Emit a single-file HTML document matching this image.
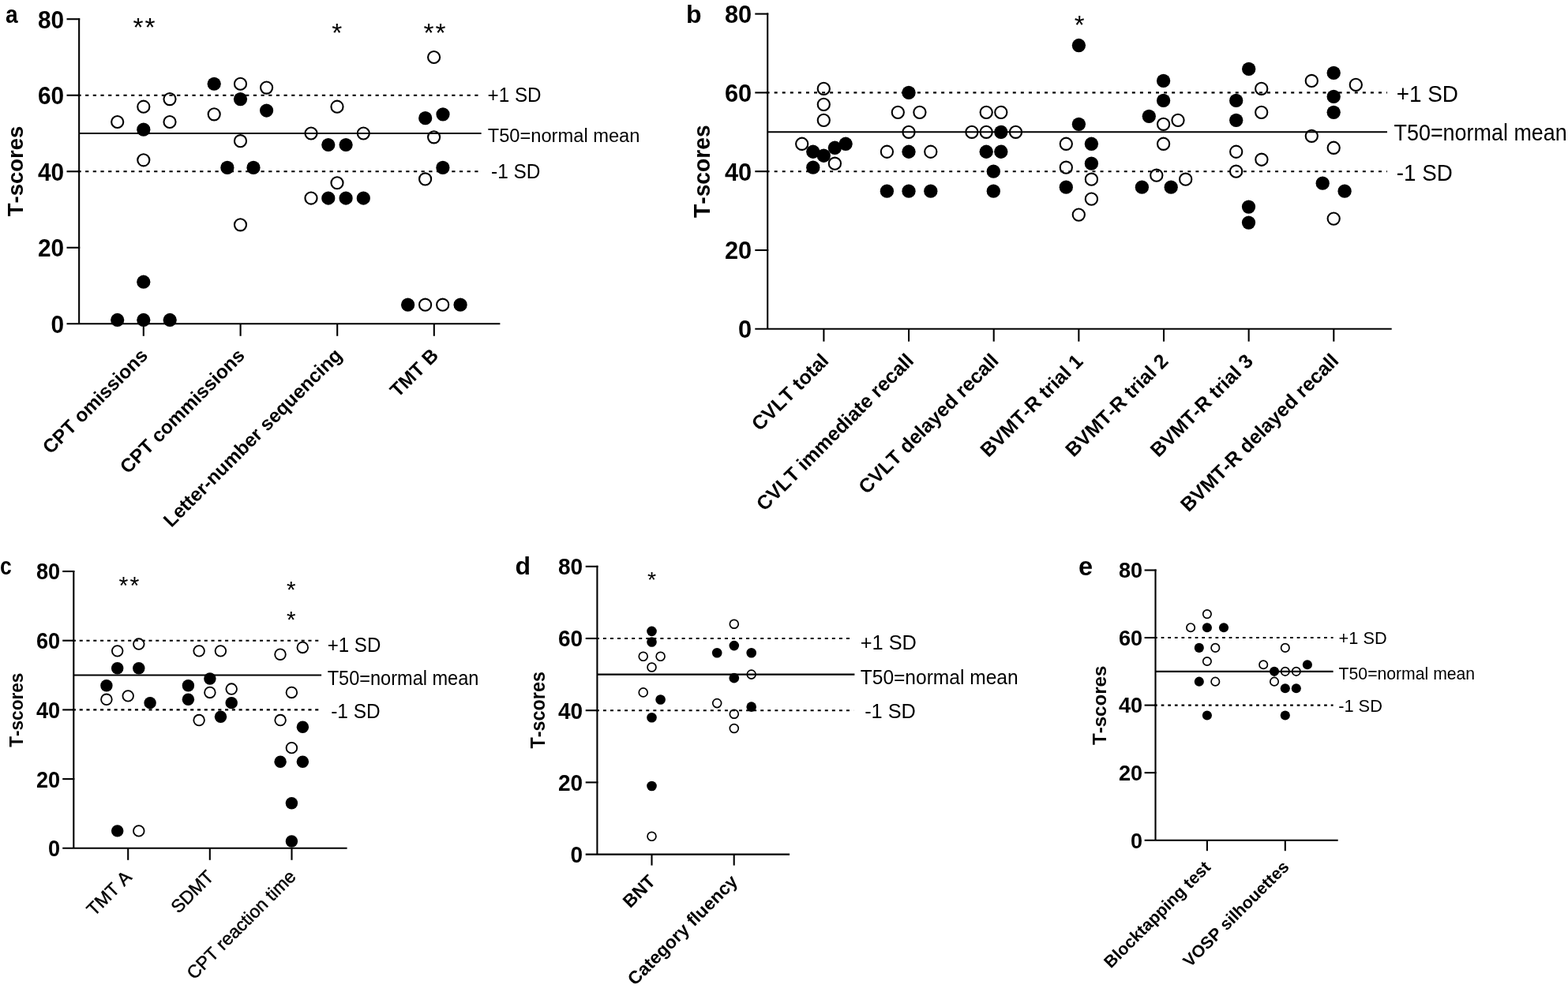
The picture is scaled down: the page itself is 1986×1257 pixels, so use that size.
<!DOCTYPE html>
<html><head><meta charset="utf-8"><title>T-scores figure</title>
<style>html,body{margin:0;padding:0;background:#fff;}svg{display:block;} text{stroke:none;font-kerning:none;}</style></head>
<body>
<svg width="1986" height="1257" viewBox="0 0 1986 1257">
<rect width="1986" height="1257" fill="#fff"/>
<g stroke="#000" fill="#000" font-family='"Liberation Sans", sans-serif' stroke-linecap="butt">
<line x1="98.4" y1="120.74" x2="607.6" y2="120.74" stroke-width="2.1" stroke-dasharray="4.3 5.37"/>
<line x1="98.4" y1="217.26" x2="607.6" y2="217.26" stroke-width="2.1" stroke-dasharray="4.3 5.37"/>
<line x1="100.15" y1="169" x2="609.6" y2="169" stroke-width="2.1"/>
<path d="M100.15,23.17V410.3" stroke-width="2.1" fill="none"/>
<line x1="84.5" y1="313.78" x2="101.2" y2="313.78" stroke-width="2.1"/>
<line x1="84.5" y1="217.26" x2="101.2" y2="217.26" stroke-width="2.1"/>
<line x1="84.5" y1="120.74" x2="101.2" y2="120.74" stroke-width="2.1"/>
<line x1="84.5" y1="24.22" x2="101.2" y2="24.22" stroke-width="2.1"/>
<line x1="84.5" y1="410.3" x2="633.4" y2="410.3" stroke-width="2.1"/>
<line x1="181.8" y1="410.3" x2="181.8" y2="425.8" stroke-width="2.1"/>
<line x1="304.6" y1="410.3" x2="304.6" y2="425.8" stroke-width="2.1"/>
<line x1="427.2" y1="410.3" x2="427.2" y2="425.8" stroke-width="2.1"/>
<line x1="549.8" y1="410.3" x2="549.8" y2="425.8" stroke-width="2.1"/>
<circle cx="148.7" cy="154.52" r="7.55" stroke-width="2.1" fill="none"/>
<circle cx="181.8" cy="135.22" r="7.55" stroke-width="2.1" fill="none"/>
<circle cx="215" cy="125.57" r="7.55" stroke-width="2.1" fill="none"/>
<circle cx="215" cy="154.52" r="7.55" stroke-width="2.1" fill="none"/>
<circle cx="181.8" cy="164.17" r="8.6" stroke="none" fill="#000"/>
<circle cx="181.8" cy="202.78" r="7.55" stroke-width="2.1" fill="none"/>
<circle cx="148.7" cy="405.47" r="8.6" stroke="none" fill="#000"/>
<circle cx="181.8" cy="405.47" r="8.6" stroke="none" fill="#000"/>
<circle cx="215.2" cy="405.47" r="8.6" stroke="none" fill="#000"/>
<circle cx="181.8" cy="357.21" r="8.6" stroke="none" fill="#000"/>
<circle cx="271.2" cy="106.26" r="8.6" stroke="none" fill="#000"/>
<circle cx="304.5" cy="106.26" r="7.55" stroke-width="2.1" fill="none"/>
<circle cx="337.6" cy="111.09" r="7.55" stroke-width="2.1" fill="none"/>
<circle cx="304.5" cy="125.57" r="8.6" stroke="none" fill="#000"/>
<circle cx="337.6" cy="140.04" r="8.6" stroke="none" fill="#000"/>
<circle cx="271.2" cy="144.87" r="7.55" stroke-width="2.1" fill="none"/>
<circle cx="304.5" cy="178.65" r="7.55" stroke-width="2.1" fill="none"/>
<circle cx="287.9" cy="212.43" r="8.6" stroke="none" fill="#000"/>
<circle cx="321" cy="212.43" r="8.6" stroke="none" fill="#000"/>
<circle cx="304.5" cy="284.82" r="7.55" stroke-width="2.1" fill="none"/>
<circle cx="427" cy="135.22" r="7.55" stroke-width="2.1" fill="none"/>
<circle cx="394" cy="169" r="7.55" stroke-width="2.1" fill="none"/>
<circle cx="460.3" cy="169" r="7.55" stroke-width="2.1" fill="none"/>
<circle cx="415.8" cy="183.48" r="8.6" stroke="none" fill="#000"/>
<circle cx="438.1" cy="183.48" r="8.6" stroke="none" fill="#000"/>
<circle cx="427" cy="231.74" r="7.55" stroke-width="2.1" fill="none"/>
<circle cx="394" cy="251.04" r="7.55" stroke-width="2.1" fill="none"/>
<circle cx="415.8" cy="251.04" r="8.6" stroke="none" fill="#000"/>
<circle cx="438.1" cy="251.04" r="8.6" stroke="none" fill="#000"/>
<circle cx="460.3" cy="251.04" r="8.6" stroke="none" fill="#000"/>
<circle cx="549.6" cy="72.48" r="7.55" stroke-width="2.1" fill="none"/>
<circle cx="538.7" cy="149.7" r="8.6" stroke="none" fill="#000"/>
<circle cx="561" cy="144.87" r="8.6" stroke="none" fill="#000"/>
<circle cx="549.6" cy="173.83" r="7.55" stroke-width="2.1" fill="none"/>
<circle cx="560.9" cy="212.43" r="8.6" stroke="none" fill="#000"/>
<circle cx="538.6" cy="226.91" r="7.55" stroke-width="2.1" fill="none"/>
<circle cx="516.6" cy="386.17" r="8.6" stroke="none" fill="#000"/>
<circle cx="538.6" cy="386.17" r="7.55" stroke-width="2.1" fill="none"/>
<circle cx="560.7" cy="386.17" r="7.55" stroke-width="2.1" fill="none"/>
<circle cx="583.1" cy="386.17" r="8.6" stroke="none" fill="#000"/>
<text transform="translate(64.54,421.85) scale(1,1.028)" font-size="29.82" font-weight="bold">0</text>
<text transform="translate(47.95,325.33) scale(1,1.028)" font-size="29.82" font-weight="bold">20</text>
<text transform="translate(47.95,228.81) scale(1,1.028)" font-size="29.82" font-weight="bold">40</text>
<text transform="translate(47.95,132.29) scale(1,1.028)" font-size="29.82" font-weight="bold">60</text>
<text transform="translate(47.95,35.77) scale(1,1.028)" font-size="29.82" font-weight="bold">80</text>
<text transform="translate(29.4,274.31) rotate(-90) scale(1,1.0)" font-size="27.5" font-weight="bold">T-scores</text>
<text transform="translate(7.08,28.8) scale(0.88,1.0)" font-size="32" font-weight="bold">a</text>
<text transform="translate(617.52,129) scale(1,1.055)" font-size="24.24">+1 SD</text>
<text transform="translate(617.67,179.9) scale(1,1.043)" font-size="23.69">T50=normal mean</text>
<text transform="translate(622.12,225.7) scale(1,1.031)" font-size="24.39">-1 SD</text>
<text transform="translate(187.98,452.68) rotate(-45)" x="-175.26" y="0" font-size="24.4" font-weight="bold">CPT omissions</text>
<text transform="translate(310.78,452.68) rotate(-45)" x="-210.52" y="0" font-size="24.4" font-weight="bold">CPT commissions</text>
<text transform="translate(433.38,452.68) rotate(-45)" x="-306.12" y="0" font-size="24.4" font-weight="bold">Letter-number sequencing</text>
<text transform="translate(555.98,452.68) rotate(-45)" x="-73.43" y="0" font-size="24.4" font-weight="bold">TMT B</text>
<text x="168.4" y="45.75" font-size="33.5" letter-spacing="2.1">**</text>
<text x="420.27" y="53.05" font-size="33.5">*</text>
<text x="536.4" y="53.05" font-size="33.5" letter-spacing="2.1">**</text>
<line x1="970.6" y1="117.4" x2="1757" y2="117.4" stroke-width="2.1" stroke-dasharray="4.0 6.07"/>
<line x1="970.6" y1="217.2" x2="1757" y2="217.2" stroke-width="2.1" stroke-dasharray="4.0 6.07"/>
<line x1="972.2" y1="167.3" x2="1757" y2="167.3" stroke-width="2.1"/>
<path d="M972.2,16.55V416.8" stroke-width="2.1" fill="none"/>
<line x1="956.3" y1="317" x2="973.25" y2="317" stroke-width="2.1"/>
<line x1="956.3" y1="217.2" x2="973.25" y2="217.2" stroke-width="2.1"/>
<line x1="956.3" y1="117.4" x2="973.25" y2="117.4" stroke-width="2.1"/>
<line x1="956.3" y1="17.6" x2="973.25" y2="17.6" stroke-width="2.1"/>
<line x1="956.3" y1="416.8" x2="1762.7" y2="416.8" stroke-width="2.1"/>
<line x1="1043.4" y1="416.8" x2="1043.4" y2="432.7" stroke-width="2.1"/>
<line x1="1151.05" y1="416.8" x2="1151.05" y2="432.7" stroke-width="2.1"/>
<line x1="1258.7" y1="416.8" x2="1258.7" y2="432.7" stroke-width="2.1"/>
<line x1="1366.35" y1="416.8" x2="1366.35" y2="432.7" stroke-width="2.1"/>
<line x1="1474" y1="416.8" x2="1474" y2="432.7" stroke-width="2.1"/>
<line x1="1581.65" y1="416.8" x2="1581.65" y2="432.7" stroke-width="2.1"/>
<line x1="1689.3" y1="416.8" x2="1689.3" y2="432.7" stroke-width="2.1"/>
<circle cx="1043.3" cy="112.41" r="7.6" stroke-width="2.1" fill="none"/>
<circle cx="1043.3" cy="132.37" r="7.6" stroke-width="2.1" fill="none"/>
<circle cx="1043.3" cy="152.33" r="7.6" stroke-width="2.1" fill="none"/>
<circle cx="1015.7" cy="182.27" r="7.6" stroke-width="2.1" fill="none"/>
<circle cx="1029.8" cy="192.25" r="8.65" stroke="none" fill="#000"/>
<circle cx="1043.3" cy="197.24" r="8.65" stroke="none" fill="#000"/>
<circle cx="1057.4" cy="187.26" r="8.65" stroke="none" fill="#000"/>
<circle cx="1071.1" cy="182.27" r="8.65" stroke="none" fill="#000"/>
<circle cx="1057.4" cy="207.22" r="7.6" stroke-width="2.1" fill="none"/>
<circle cx="1029.8" cy="212.21" r="8.65" stroke="none" fill="#000"/>
<circle cx="1151" cy="117.4" r="8.65" stroke="none" fill="#000"/>
<circle cx="1137.3" cy="142.35" r="7.6" stroke-width="2.1" fill="none"/>
<circle cx="1164.9" cy="142.35" r="7.6" stroke-width="2.1" fill="none"/>
<circle cx="1151" cy="167.3" r="7.6" stroke-width="2.1" fill="none"/>
<circle cx="1123.4" cy="192.25" r="7.6" stroke-width="2.1" fill="none"/>
<circle cx="1151" cy="192.25" r="8.65" stroke="none" fill="#000"/>
<circle cx="1178.8" cy="192.25" r="7.6" stroke-width="2.1" fill="none"/>
<circle cx="1123.4" cy="242.15" r="8.65" stroke="none" fill="#000"/>
<circle cx="1151" cy="242.15" r="8.65" stroke="none" fill="#000"/>
<circle cx="1178.8" cy="242.15" r="8.65" stroke="none" fill="#000"/>
<circle cx="1249.2" cy="142.35" r="7.6" stroke-width="2.1" fill="none"/>
<circle cx="1267.8" cy="142.35" r="7.6" stroke-width="2.1" fill="none"/>
<circle cx="1230.9" cy="167.3" r="7.6" stroke-width="2.1" fill="none"/>
<circle cx="1249.2" cy="167.3" r="7.6" stroke-width="2.1" fill="none"/>
<circle cx="1267.8" cy="167.3" r="8.65" stroke="none" fill="#000"/>
<circle cx="1286.5" cy="167.3" r="7.6" stroke-width="2.1" fill="none"/>
<circle cx="1249.2" cy="192.25" r="8.65" stroke="none" fill="#000"/>
<circle cx="1267.8" cy="192.25" r="8.65" stroke="none" fill="#000"/>
<circle cx="1258.3" cy="217.2" r="8.65" stroke="none" fill="#000"/>
<circle cx="1258.3" cy="242.15" r="8.65" stroke="none" fill="#000"/>
<circle cx="1366.4" cy="57.52" r="8.65" stroke="none" fill="#000"/>
<circle cx="1366.4" cy="157.32" r="8.65" stroke="none" fill="#000"/>
<circle cx="1350.3" cy="182.27" r="7.6" stroke-width="2.1" fill="none"/>
<circle cx="1382.4" cy="182.27" r="8.65" stroke="none" fill="#000"/>
<circle cx="1350.3" cy="212.21" r="7.6" stroke-width="2.1" fill="none"/>
<circle cx="1382.4" cy="207.22" r="8.65" stroke="none" fill="#000"/>
<circle cx="1382.4" cy="227.18" r="7.6" stroke-width="2.1" fill="none"/>
<circle cx="1350.3" cy="237.16" r="8.65" stroke="none" fill="#000"/>
<circle cx="1382.4" cy="252.13" r="7.6" stroke-width="2.1" fill="none"/>
<circle cx="1366.3" cy="272.09" r="7.6" stroke-width="2.1" fill="none"/>
<circle cx="1473.6" cy="102.43" r="8.65" stroke="none" fill="#000"/>
<circle cx="1473.6" cy="127.38" r="8.65" stroke="none" fill="#000"/>
<circle cx="1455.3" cy="147.34" r="8.65" stroke="none" fill="#000"/>
<circle cx="1473.6" cy="157.32" r="7.6" stroke-width="2.1" fill="none"/>
<circle cx="1492" cy="152.33" r="7.6" stroke-width="2.1" fill="none"/>
<circle cx="1473.6" cy="182.27" r="7.6" stroke-width="2.1" fill="none"/>
<circle cx="1464.8" cy="222.19" r="7.6" stroke-width="2.1" fill="none"/>
<circle cx="1501.7" cy="227.18" r="7.6" stroke-width="2.1" fill="none"/>
<circle cx="1446.4" cy="237.16" r="8.65" stroke="none" fill="#000"/>
<circle cx="1483.2" cy="237.16" r="8.65" stroke="none" fill="#000"/>
<circle cx="1581.7" cy="87.46" r="8.65" stroke="none" fill="#000"/>
<circle cx="1597.7" cy="112.41" r="7.6" stroke-width="2.1" fill="none"/>
<circle cx="1565.7" cy="127.38" r="8.65" stroke="none" fill="#000"/>
<circle cx="1597.7" cy="142.35" r="7.6" stroke-width="2.1" fill="none"/>
<circle cx="1565.7" cy="152.33" r="8.65" stroke="none" fill="#000"/>
<circle cx="1565.7" cy="192.25" r="7.6" stroke-width="2.1" fill="none"/>
<circle cx="1597.9" cy="202.23" r="7.6" stroke-width="2.1" fill="none"/>
<circle cx="1565.6" cy="217.2" r="7.6" stroke-width="2.1" fill="none"/>
<circle cx="1581.5" cy="262.11" r="8.65" stroke="none" fill="#000"/>
<circle cx="1581.5" cy="282.07" r="8.65" stroke="none" fill="#000"/>
<circle cx="1661.3" cy="102.43" r="7.6" stroke-width="2.1" fill="none"/>
<circle cx="1689.2" cy="92.45" r="8.65" stroke="none" fill="#000"/>
<circle cx="1717.3" cy="107.42" r="7.6" stroke-width="2.1" fill="none"/>
<circle cx="1689.2" cy="122.39" r="8.65" stroke="none" fill="#000"/>
<circle cx="1689.2" cy="142.35" r="8.65" stroke="none" fill="#000"/>
<circle cx="1661.3" cy="172.29" r="7.6" stroke-width="2.1" fill="none"/>
<circle cx="1689.2" cy="187.26" r="7.6" stroke-width="2.1" fill="none"/>
<circle cx="1675.2" cy="232.17" r="8.65" stroke="none" fill="#000"/>
<circle cx="1703.1" cy="242.15" r="8.65" stroke="none" fill="#000"/>
<circle cx="1689.2" cy="277.08" r="7.6" stroke-width="2.1" fill="none"/>
<text transform="translate(935.04,428.24) scale(1,1.042)" font-size="30.78" font-weight="bold">0</text>
<text transform="translate(917.92,328.44) scale(1,1.042)" font-size="30.78" font-weight="bold">20</text>
<text transform="translate(917.92,228.64) scale(1,1.042)" font-size="30.78" font-weight="bold">40</text>
<text transform="translate(917.92,128.84) scale(1,1.042)" font-size="30.78" font-weight="bold">60</text>
<text transform="translate(917.92,29.04) scale(1,1.042)" font-size="30.78" font-weight="bold">80</text>
<text transform="translate(898.7,275.96) rotate(-90) scale(1,1.05)" font-size="28.2" font-weight="bold">T-scores</text>
<text x="868.99" y="28.9" font-size="32" font-weight="bold">b</text>
<text transform="translate(1768.64,129) scale(1,1.046)" font-size="27.93">+1 SD</text>
<text transform="translate(1765.49,178) scale(1,1.085)" font-size="26.94">T50=normal mean</text>
<text transform="translate(1768.76,229.2) scale(1,1.051)" font-size="27.80">-1 SD</text>
<text transform="translate(1049.75,459.75) rotate(-45)" x="-123.71" y="0" font-size="25.1" font-weight="bold">CVLT total</text>
<text transform="translate(1157.4,459.75) rotate(-45)" x="-267.45" y="0" font-size="25.1" font-weight="bold">CVLT immediate recall</text>
<text transform="translate(1265.05,459.75) rotate(-45)" x="-236.77" y="0" font-size="25.1" font-weight="bold">CVLT delayed recall</text>
<text transform="translate(1372.7,459.75) rotate(-45)" x="-170.83" y="0" font-size="25.1" font-weight="bold">BVMT-R trial 1</text>
<text transform="translate(1480.35,459.75) rotate(-45)" x="-170.53" y="0" font-size="25.1" font-weight="bold">BVMT-R trial 2</text>
<text transform="translate(1588,459.75) rotate(-45)" x="-170.63" y="0" font-size="25.1" font-weight="bold">BVMT-R trial 3</text>
<text transform="translate(1695.65,459.75) rotate(-45)" x="-268.83" y="0" font-size="25.1" font-weight="bold">BVMT-R delayed recall</text>
<text x="1360.67" y="43.1" font-size="33.0">*</text>
<line x1="91.9" y1="811.7" x2="405.2" y2="811.7" stroke-width="2.1" stroke-dasharray="4.1 4.68"/>
<line x1="91.9" y1="899.4" x2="405.2" y2="899.4" stroke-width="2.1" stroke-dasharray="4.1 4.68"/>
<line x1="93.3" y1="855.55" x2="407.1" y2="855.55" stroke-width="2.1"/>
<path d="M93.3,722.95V1074.8" stroke-width="2.1" fill="none"/>
<line x1="79.2" y1="987.1" x2="94.35" y2="987.1" stroke-width="2.1"/>
<line x1="79.2" y1="899.4" x2="94.35" y2="899.4" stroke-width="2.1"/>
<line x1="79.2" y1="811.7" x2="94.35" y2="811.7" stroke-width="2.1"/>
<line x1="79.2" y1="724" x2="94.35" y2="724" stroke-width="2.1"/>
<line x1="79.2" y1="1074.8" x2="439.6" y2="1074.8" stroke-width="2.1"/>
<line x1="162.2" y1="1074.8" x2="162.2" y2="1089.8" stroke-width="2.1"/>
<line x1="265.8" y1="1074.8" x2="265.8" y2="1089.8" stroke-width="2.1"/>
<line x1="369.5" y1="1074.8" x2="369.5" y2="1089.8" stroke-width="2.1"/>
<circle cx="148.7" cy="824.86" r="6.8" stroke-width="1.85" fill="none"/>
<circle cx="175.8" cy="816.09" r="6.8" stroke-width="1.85" fill="none"/>
<circle cx="148.7" cy="846.78" r="7.72" stroke="none" fill="#000"/>
<circle cx="175.8" cy="846.78" r="7.72" stroke="none" fill="#000"/>
<circle cx="134.9" cy="868.7" r="7.72" stroke="none" fill="#000"/>
<circle cx="134.9" cy="886.25" r="6.8" stroke-width="1.85" fill="none"/>
<circle cx="162.2" cy="881.86" r="6.8" stroke-width="1.85" fill="none"/>
<circle cx="190.1" cy="890.63" r="7.72" stroke="none" fill="#000"/>
<circle cx="148.7" cy="1052.88" r="7.72" stroke="none" fill="#000"/>
<circle cx="175.8" cy="1052.88" r="6.8" stroke-width="1.85" fill="none"/>
<circle cx="252.1" cy="824.86" r="6.8" stroke-width="1.85" fill="none"/>
<circle cx="279.4" cy="824.86" r="6.8" stroke-width="1.85" fill="none"/>
<circle cx="265.9" cy="859.93" r="7.72" stroke="none" fill="#000"/>
<circle cx="238.4" cy="868.7" r="7.72" stroke="none" fill="#000"/>
<circle cx="265.9" cy="877.47" r="6.8" stroke-width="1.85" fill="none"/>
<circle cx="293.2" cy="873.09" r="6.8" stroke-width="1.85" fill="none"/>
<circle cx="238.4" cy="886.25" r="7.72" stroke="none" fill="#000"/>
<circle cx="293.2" cy="890.63" r="7.72" stroke="none" fill="#000"/>
<circle cx="252.1" cy="912.55" r="6.8" stroke-width="1.85" fill="none"/>
<circle cx="279.5" cy="908.17" r="7.72" stroke="none" fill="#000"/>
<circle cx="383.3" cy="820.47" r="6.8" stroke-width="1.85" fill="none"/>
<circle cx="355" cy="829.24" r="6.8" stroke-width="1.85" fill="none"/>
<circle cx="369.4" cy="877.47" r="6.8" stroke-width="1.85" fill="none"/>
<circle cx="355.1" cy="912.55" r="6.8" stroke-width="1.85" fill="none"/>
<circle cx="383.4" cy="921.32" r="7.72" stroke="none" fill="#000"/>
<circle cx="369.4" cy="947.63" r="6.8" stroke-width="1.85" fill="none"/>
<circle cx="355.1" cy="965.17" r="7.72" stroke="none" fill="#000"/>
<circle cx="383.4" cy="965.17" r="7.72" stroke="none" fill="#000"/>
<circle cx="369.4" cy="1017.79" r="7.72" stroke="none" fill="#000"/>
<circle cx="369.4" cy="1066.03" r="7.72" stroke="none" fill="#000"/>
<text transform="translate(61.03,1085.27) scale(1,1.067)" font-size="27.13" font-weight="bold">0</text>
<text transform="translate(45.94,997.57) scale(1,1.067)" font-size="27.13" font-weight="bold">20</text>
<text transform="translate(45.94,909.87) scale(1,1.067)" font-size="27.13" font-weight="bold">40</text>
<text transform="translate(45.94,822.17) scale(1,1.067)" font-size="27.13" font-weight="bold">60</text>
<text transform="translate(45.94,734.47) scale(1,1.067)" font-size="27.13" font-weight="bold">80</text>
<text transform="translate(29.1,946.77) rotate(-90) scale(1,1.06)" font-size="22.6" font-weight="bold">T-scores</text>
<text transform="translate(0.06,728.3) scale(0.83,1.0)" font-size="32" font-weight="bold">c</text>
<text transform="translate(414.72,825.9) scale(1,1.068)" font-size="24.09">+1 SD</text>
<text transform="translate(414.67,867.9) scale(1,1.086)" font-size="23.55">T50=normal mean</text>
<text transform="translate(419.21,909.8) scale(1,1.041)" font-size="24.43">-1 SD</text>
<text transform="translate(168.02,1112.92) rotate(-45)" x="-68.94" y="0" font-size="23.0" style="stroke:#000;stroke-width:0.45px;stroke-linejoin:round">TMT A</text>
<text transform="translate(271.62,1112.92) rotate(-45)" x="-64.63" y="0" font-size="23.0" style="stroke:#000;stroke-width:0.45px;stroke-linejoin:round">SDMT</text>
<text transform="translate(375.32,1112.92) rotate(-45)" x="-183.03" y="0" font-size="23.0" style="stroke:#000;stroke-width:0.45px;stroke-linejoin:round">CPT reaction time</text>
<text x="150.52" y="753.08" font-size="30.5" letter-spacing="2.1">**</text>
<text x="363.1" y="756.7" font-size="29.5">*</text>
<text x="363.1" y="794.9" font-size="29.5">*</text>
<line x1="754.85" y1="809" x2="1077.8" y2="809" stroke-width="2.1" stroke-dasharray="4.0 5.06"/>
<line x1="754.85" y1="900.2" x2="1081.1" y2="900.2" stroke-width="2.1" stroke-dasharray="4.0 5.06"/>
<line x1="756.4" y1="854.6" x2="1082.4" y2="854.6" stroke-width="2.1"/>
<path d="M756.4,716.75V1082.6" stroke-width="2.1" fill="none"/>
<line x1="741.7" y1="991.4" x2="757.45" y2="991.4" stroke-width="2.1"/>
<line x1="741.7" y1="900.2" x2="757.45" y2="900.2" stroke-width="2.1"/>
<line x1="741.7" y1="809" x2="757.45" y2="809" stroke-width="2.1"/>
<line x1="741.7" y1="717.8" x2="757.45" y2="717.8" stroke-width="2.1"/>
<line x1="741.7" y1="1082.6" x2="1000.1" y2="1082.6" stroke-width="2.1"/>
<line x1="825.5" y1="1082.6" x2="825.5" y2="1096.6" stroke-width="2.1"/>
<line x1="929.7" y1="1082.6" x2="929.7" y2="1096.6" stroke-width="2.1"/>
<circle cx="825.5" cy="799.88" r="6.3" stroke="none" fill="#000"/>
<circle cx="825.5" cy="813.56" r="6.3" stroke="none" fill="#000"/>
<circle cx="814.7" cy="831.8" r="5.45" stroke-width="1.7" fill="none"/>
<circle cx="836.6" cy="831.8" r="5.45" stroke-width="1.7" fill="none"/>
<circle cx="825.5" cy="845.48" r="5.45" stroke-width="1.7" fill="none"/>
<circle cx="814.7" cy="877.4" r="5.45" stroke-width="1.7" fill="none"/>
<circle cx="836.6" cy="886.52" r="6.3" stroke="none" fill="#000"/>
<circle cx="825.5" cy="909.32" r="6.3" stroke="none" fill="#000"/>
<circle cx="825.5" cy="995.96" r="6.3" stroke="none" fill="#000"/>
<circle cx="825.5" cy="1059.8" r="5.45" stroke-width="1.7" fill="none"/>
<circle cx="929.8" cy="790.76" r="5.45" stroke-width="1.7" fill="none"/>
<circle cx="929.8" cy="818.12" r="6.3" stroke="none" fill="#000"/>
<circle cx="908.2" cy="827.24" r="6.3" stroke="none" fill="#000"/>
<circle cx="951.7" cy="827.24" r="6.3" stroke="none" fill="#000"/>
<circle cx="951.7" cy="854.6" r="5.45" stroke-width="1.7" fill="none"/>
<circle cx="929.8" cy="859.16" r="6.3" stroke="none" fill="#000"/>
<circle cx="908.2" cy="891.08" r="5.45" stroke-width="1.7" fill="none"/>
<circle cx="951.7" cy="895.64" r="6.3" stroke="none" fill="#000"/>
<circle cx="929.8" cy="904.76" r="5.45" stroke-width="1.7" fill="none"/>
<circle cx="929.8" cy="923" r="5.45" stroke-width="1.7" fill="none"/>
<text transform="translate(722.48,1092.96) scale(1,1.044)" font-size="27.99" font-weight="bold">0</text>
<text transform="translate(706.91,1001.76) scale(1,1.044)" font-size="27.99" font-weight="bold">20</text>
<text transform="translate(706.91,910.56) scale(1,1.044)" font-size="27.99" font-weight="bold">40</text>
<text transform="translate(706.91,819.36) scale(1,1.044)" font-size="27.99" font-weight="bold">60</text>
<text transform="translate(706.91,728.16) scale(1,1.044)" font-size="27.99" font-weight="bold">80</text>
<text transform="translate(689.7,948.42) rotate(-90) scale(1,1.08)" font-size="23.35" font-weight="bold">T-scores</text>
<text x="652.59" y="727.8" font-size="32" font-weight="bold">d</text>
<text transform="translate(1089.66,822.9) scale(1,1.025)" font-size="25.38">+1 SD</text>
<text transform="translate(1089.75,866.8) scale(1,1.042)" font-size="24.55">T50=normal mean</text>
<text transform="translate(1095.17,909.7) scale(1,1.022)" font-size="25.33">-1 SD</text>
<text transform="translate(831.3,1118.4) rotate(-45)" x="-46.82" y="0" font-size="22.9" font-weight="bold">BNT</text>
<text transform="translate(935.5,1118.4) rotate(-45)" x="-185.67" y="0" font-size="22.9" font-weight="bold">Category fluency</text>
<text x="820.1" y="744.41" font-size="28.5">*</text>
<line x1="1462.1" y1="808.05" x2="1688.6" y2="808.05" stroke-width="2.1" stroke-dasharray="3.7 4.9"/>
<line x1="1462.1" y1="893.6" x2="1688.6" y2="893.6" stroke-width="2.1" stroke-dasharray="3.7 4.9"/>
<line x1="1463.5" y1="850.83" x2="1688.6" y2="850.83" stroke-width="2.1"/>
<path d="M1463.5,721.45V1064.7" stroke-width="2.1" fill="none"/>
<line x1="1449.6" y1="979.15" x2="1464.55" y2="979.15" stroke-width="2.1"/>
<line x1="1449.6" y1="893.6" x2="1464.55" y2="893.6" stroke-width="2.1"/>
<line x1="1449.6" y1="808.05" x2="1464.55" y2="808.05" stroke-width="2.1"/>
<line x1="1449.6" y1="722.5" x2="1464.55" y2="722.5" stroke-width="2.1"/>
<line x1="1449.6" y1="1064.7" x2="1694.7" y2="1064.7" stroke-width="2.1"/>
<line x1="1528.9" y1="1064.7" x2="1528.9" y2="1078.2" stroke-width="2.1"/>
<line x1="1627.8" y1="1064.7" x2="1627.8" y2="1078.2" stroke-width="2.1"/>
<circle cx="1528.9" cy="778.11" r="5.2" stroke-width="1.7" fill="none"/>
<circle cx="1508.1" cy="795.22" r="5.2" stroke-width="1.7" fill="none"/>
<circle cx="1528.9" cy="795.22" r="6.05" stroke="none" fill="#000"/>
<circle cx="1550" cy="795.22" r="6.05" stroke="none" fill="#000"/>
<circle cx="1518.8" cy="820.88" r="6.05" stroke="none" fill="#000"/>
<circle cx="1539.3" cy="820.88" r="5.2" stroke-width="1.7" fill="none"/>
<circle cx="1528.9" cy="837.99" r="5.2" stroke-width="1.7" fill="none"/>
<circle cx="1518.8" cy="863.66" r="6.05" stroke="none" fill="#000"/>
<circle cx="1539.3" cy="863.66" r="5.2" stroke-width="1.7" fill="none"/>
<circle cx="1528.9" cy="906.43" r="6.05" stroke="none" fill="#000"/>
<circle cx="1627.8" cy="820.88" r="5.2" stroke-width="1.7" fill="none"/>
<circle cx="1600.2" cy="842.27" r="5.2" stroke-width="1.7" fill="none"/>
<circle cx="1655.9" cy="842.27" r="6.05" stroke="none" fill="#000"/>
<circle cx="1614" cy="850.83" r="6.05" stroke="none" fill="#000"/>
<circle cx="1627.8" cy="850.83" r="5.2" stroke-width="1.7" fill="none"/>
<circle cx="1641.8" cy="850.83" r="5.2" stroke-width="1.7" fill="none"/>
<circle cx="1614" cy="863.66" r="5.2" stroke-width="1.7" fill="none"/>
<circle cx="1627.8" cy="872.21" r="6.05" stroke="none" fill="#000"/>
<circle cx="1641.8" cy="872.21" r="6.05" stroke="none" fill="#000"/>
<circle cx="1627.8" cy="906.43" r="6.05" stroke="none" fill="#000"/>
<text transform="translate(1432.03,1074.58) scale(1,1.026)" font-size="27.13" font-weight="bold">0</text>
<text transform="translate(1416.94,989.03) scale(1,1.026)" font-size="27.13" font-weight="bold">20</text>
<text transform="translate(1416.94,903.48) scale(1,1.026)" font-size="27.13" font-weight="bold">40</text>
<text transform="translate(1416.94,817.93) scale(1,1.026)" font-size="27.13" font-weight="bold">60</text>
<text transform="translate(1416.94,732.38) scale(1,1.026)" font-size="27.13" font-weight="bold">80</text>
<text transform="translate(1400.7,944.07) rotate(-90) scale(1,1.03)" font-size="24.1" font-weight="bold">T-scores</text>
<text x="1365.93" y="728.5" font-size="32.5" font-weight="bold">e</text>
<text transform="translate(1695.54,815.8) scale(1,1.008)" font-size="21.77">+1 SD</text>
<text transform="translate(1695.62,860.8) scale(1,1.041)" font-size="21.21">T50=normal mean</text>
<text transform="translate(1695.13,901.7) scale(1,0.998)" font-size="21.84">-1 SD</text>
<text transform="translate(1534.34,1100.34) rotate(-45)" x="-180.11" y="0" font-size="21.5" font-weight="bold">Blocktapping test</text>
<text transform="translate(1633.24,1100.34) rotate(-45)" x="-178.33" y="0" font-size="21.5" font-weight="bold">VOSP silhouettes</text>
</g>
</svg>
</body></html>
